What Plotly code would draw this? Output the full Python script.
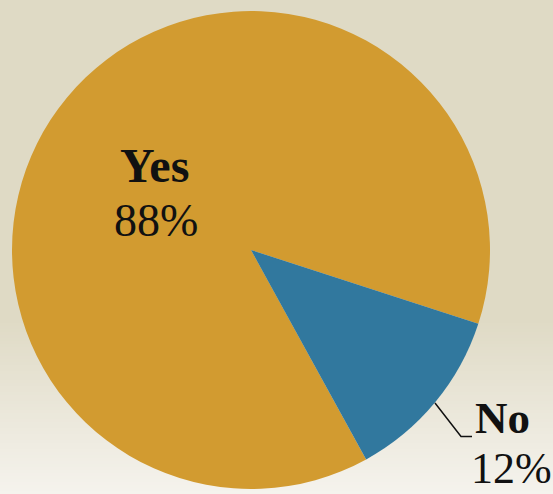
import plotly.graph_objects as go

# Survey answer shares
answers = ["Yes", "No"]
shares = [88, 12]
slice_colors = ["#d29b30", "#31789e"]

W, H = 553, 494


def px(x):
    return x / W


def py(y):
    return 1 - y / H


fig = go.Figure()
fig.add_trace(go.Pie(
    labels=answers,
    values=shares,
    sort=False,
    direction="clockwise",
    rotation=151.2,
    marker=dict(colors=slice_colors, line=dict(width=0)),
    textinfo="none",
    hoverinfo="label+percent",
    showlegend=False,
    domain=dict(x=[px(12), px(490)], y=[py(489), py(11)]),
))

# Background: flat beige that fades lighter toward the bottom
shapes = [dict(type="rect", xref="paper", yref="paper", x0=0, x1=1, y0=0, y1=1,
               fillcolor="#dfdac5", line=dict(width=0), layer="below")]
top_rgb = (223, 218, 197)
bot_rgb = (245, 243, 237)
start, steps = 320, 58
for i in range(steps):
    y0 = start + (H - start) * i / steps
    y1 = start + (H - start) * (i + 1) / steps
    t = (i + 0.5) / steps
    c = tuple(round(a + (b - a) * t) for a, b in zip(top_rgb, bot_rgb))
    shapes.append(dict(type="rect", xref="paper", yref="paper", x0=0, x1=1,
                       y0=py(y1 + 0.5), y1=py(y0), fillcolor="rgb(%d,%d,%d)" % c,
                       line=dict(width=0), layer="below"))

# Leader line for the small slice
shapes.append(dict(type="path", xref="paper", yref="paper",
                   path="M %f,%f L %f,%f L %f,%f" % (px(435), py(403), px(461), py(436.5), px(472), py(436.5)),
                   line=dict(color="#111111", width=1.5)))

font = "Times New Roman"
total = sum(shares)
pct = [f"{round(v * 100 / total)}%" for v in shares]

annotations = [
    dict(text=f"<b>{answers[0]}</b>", x=px(154), y=py(166), size=48),
    dict(text=pct[0], x=px(156), y=py(220), size=46),
    dict(text=f"<b>{answers[1]}</b>", x=px(473), y=py(418), xanchor="left", size=45),
    dict(text=pct[1], x=px(469), y=py(468), xanchor="left", size=44),
]
for a in annotations:
    a.setdefault("xanchor", "center")
    size = a.pop("size")
    a.update(xref="paper", yref="paper", yanchor="middle", showarrow=False,
             font=dict(family=font, size=size, color="#111111"))

fig.update_layout(
    width=W, height=H,
    margin=dict(l=0, r=0, t=0, b=0),
    paper_bgcolor="#dfdac5",
    plot_bgcolor="rgba(0,0,0,0)",
    shapes=shapes,
    annotations=annotations,
)

fig.write_html("out.html")
